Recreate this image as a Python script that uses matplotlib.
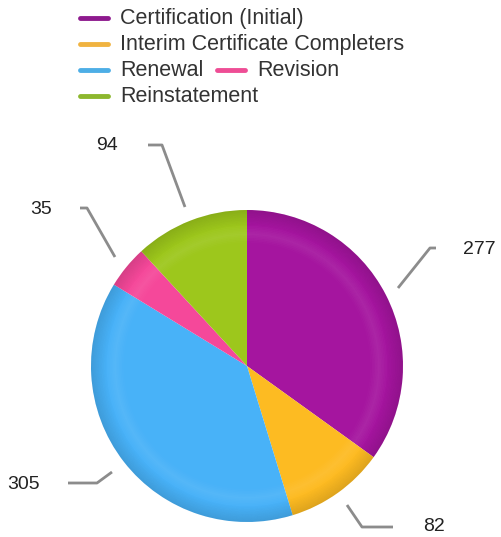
import matplotlib
matplotlib.use("Agg")
import matplotlib.pyplot as plt
from matplotlib.patches import Wedge

# data
labels = ["Certification (Initial)", "Interim Certificate Completers", "Renewal", "Revision", "Reinstatement"]
values = [277, 82, 305, 35, 94]
colors = ["#A5159F", "#FDBB22", "#48B2F8", "#F5489A", "#9DC71C"]
legend_colors = ["#8E1A8E", "#F0B340", "#4DAEE6", "#EE4D95", "#8DB72E"]

plt.rcParams['font.family'] = ['Liberation Sans', 'DejaVu Sans']

W, H = 502, 537
fig = plt.figure(figsize=(W / 100, H / 100), dpi=100)
ax = fig.add_axes([0, 0, 1, 1])

cx, cy, R = 247, 366, 156

# pie in pixel coords (y axis flipped), so start at -90 to begin at the top going clockwise
wedges, _ = ax.pie(values, colors=colors, startangle=-90, counterclock=True,
                   center=(cx, cy), radius=R, frame=True,
                   wedgeprops=dict(linewidth=0))
ax.set_xlim(0, W)
ax.set_ylim(H, 0)
ax.set_aspect("equal")
ax.axis("off")

# soft shading near the rim: thin rings, a light band then darkening to the edge
n = 12
for k in range(n):
    r0 = 0.78 + 0.12 * k / n
    ax.add_patch(Wedge((cx, cy), R * (r0 + 0.12 / n), 0, 360, width=R * 0.12 / n,
                       color="white", alpha=0.07 * (1 - abs(k - n / 2) / (n / 2)), linewidth=0))
for k in range(n):
    r0 = 0.90 + 0.10 * k / n
    ax.add_patch(Wedge((cx, cy), R * (r0 + 0.10 / n), 0, 360, width=R * 0.10 / n,
                       color="black", alpha=0.12 * (k + 1) / n, linewidth=0))

# leader lines and value labels
leaders = [
    [(398, 288), (430, 248), (436, 248)],
    [(347, 505), (362, 527), (393, 527)],
    [(112, 472), (97, 483), (68, 483)],
    [(115, 257), (87, 208), (80, 208)],
    [(185, 207), (162, 145), (148, 145)],
]
label_pos = [(463, 250, "left"), (423, 527, "left"), (40, 485, "right"), (52, 210, "right"), (118, 145, "right")]
for pts, (tx, ty, ha), v in zip(leaders, label_pos, values):
    xs = [p[0] for p in pts]
    ys = [p[1] for p in pts]
    ax.plot(xs, ys, color="#8c8c8c", lw=2, solid_capstyle="butt")
    ax.text(tx, ty, str(v), ha=ha, va="center", fontsize=14, color="#222222")

# legend drawn by hand (Renewal and Revision share a row)
rows = [(0, 80, 18), (1, 80, 44), (2, 80, 70), (3, 217, 70), (4, 80, 96)]
for i, hx, hy in rows:
    ax.plot([hx, hx + 28], [hy, hy], color=legend_colors[i], lw=3.5, solid_capstyle="round")
    ax.text(hx + 40, hy, labels[i], ha="left", va="center", fontsize=15.5, color="#333333")

fig.savefig("out.png", dpi=100)
